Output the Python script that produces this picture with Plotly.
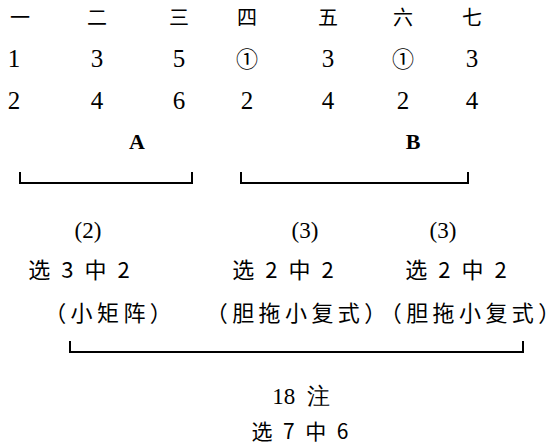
import plotly.graph_objects as go

# 数据
columns = ['一', '二', '三', '四', '五', '六', '七']
row1 = ['1', '3', '5', '①', '3', '①', '3']
row2 = ['2', '4', '6', '2', '4', '2', '4']
groups = ['A', 'B']
group_counts = ['(2)', '(3)', '(3)']
group_rules = ['选 3 中 2', '选 2 中 2', '选 2 中 2']
group_types = ['（小矩阵）', '（胆拖小复式）', '（胆拖小复式）']
total_count = '18 注'
total_rule = '选 7 中 6'

# 版面位置（像素）
col_x = [20, 97, 179, 247, 328, 403, 472]
num_x = [14, 97, 179, 247, 328, 403, 472]
row_y = [20, 61, 103]
group_x = [137, 413]
group_bracket = [(20, 192), (241, 468)]
sub_x = [88, 305, 443]
rule_x = [79, 283, 456]
type_x = [108, 296, 470]
serif = 'Liberation Serif'
cjk = 'Noto Sans CJK SC'

fig = go.Figure()


def spaced(s):
    # 中文字间距稍宽
    s = s.replace(' ', '\u2002')
    return '\u2009'.join(s)


def add_text(xs, ys, texts, size, family, color='black'):
    if not xs:
        return
    fig.add_trace(go.Scatter(
        x=xs, y=ys, text=texts, mode='text',
        textposition='middle center', cliponaxis=False,
        textfont=dict(size=size, family=family, color=color),
        hoverinfo='skip', showlegend=False
    ))


def add_bracket(x0, x1, y_top, y_bot):
    fig.add_trace(go.Scatter(
        x=[x0, x0, x1, x1], y=[y_top, y_bot, y_bot, y_top],
        mode='lines', line=dict(color='black', width=2),
        hoverinfo='skip', showlegend=False
    ))


def add_row(values, y):
    plain = [i for i, v in enumerate(values) if v.isdigit() and v.isascii()]
    circled = [i for i in range(len(values)) if i not in plain]
    add_text([num_x[i] for i in plain], [y] * len(plain),
             [values[i] for i in plain], 25, serif)
    add_text([num_x[i] for i in circled], [y] * len(circled),
             [values[i] for i in circled], 22, cjk)


add_text(col_x, [row_y[0]] * 7, columns, 20, cjk)
add_row(row1, row_y[1])
add_row(row2, row_y[2])
add_text(group_x, [143, 143], ['<b>%s</b>' % g for g in groups], 22, serif)
for x0, x1 in group_bracket:
    add_bracket(x0, x1, 172, 183)

add_text(sub_x, [232] * 3, group_counts, 23, serif)
add_text(rule_x, [272] * 3, [r.replace(' ', '\u2002') for r in group_rules], 22, cjk)
add_text(type_x, [315] * 3, [spaced(t) for t in group_types], 22, cjk)
add_bracket(70, 523, 341, 352)

add_text([301], [398], [total_count.replace(' ', '\u2002')], 23, serif)
add_text([300], [434], [total_rule.replace(' ', '\u2002')], 21, cjk)

fig.update_layout(
    width=559, height=448,
    margin=dict(l=0, r=0, t=0, b=0),
    plot_bgcolor='white', paper_bgcolor='white',
    xaxis=dict(range=[0, 559], visible=False, fixedrange=True),
    yaxis=dict(range=[448, 0], visible=False, fixedrange=True),
)
# 去掉页面 body 的默认边距，不显示工具栏
fig.write_html("out.html", config={'displayModeBar': False},
               post_script="document.body.style.margin='0';")
